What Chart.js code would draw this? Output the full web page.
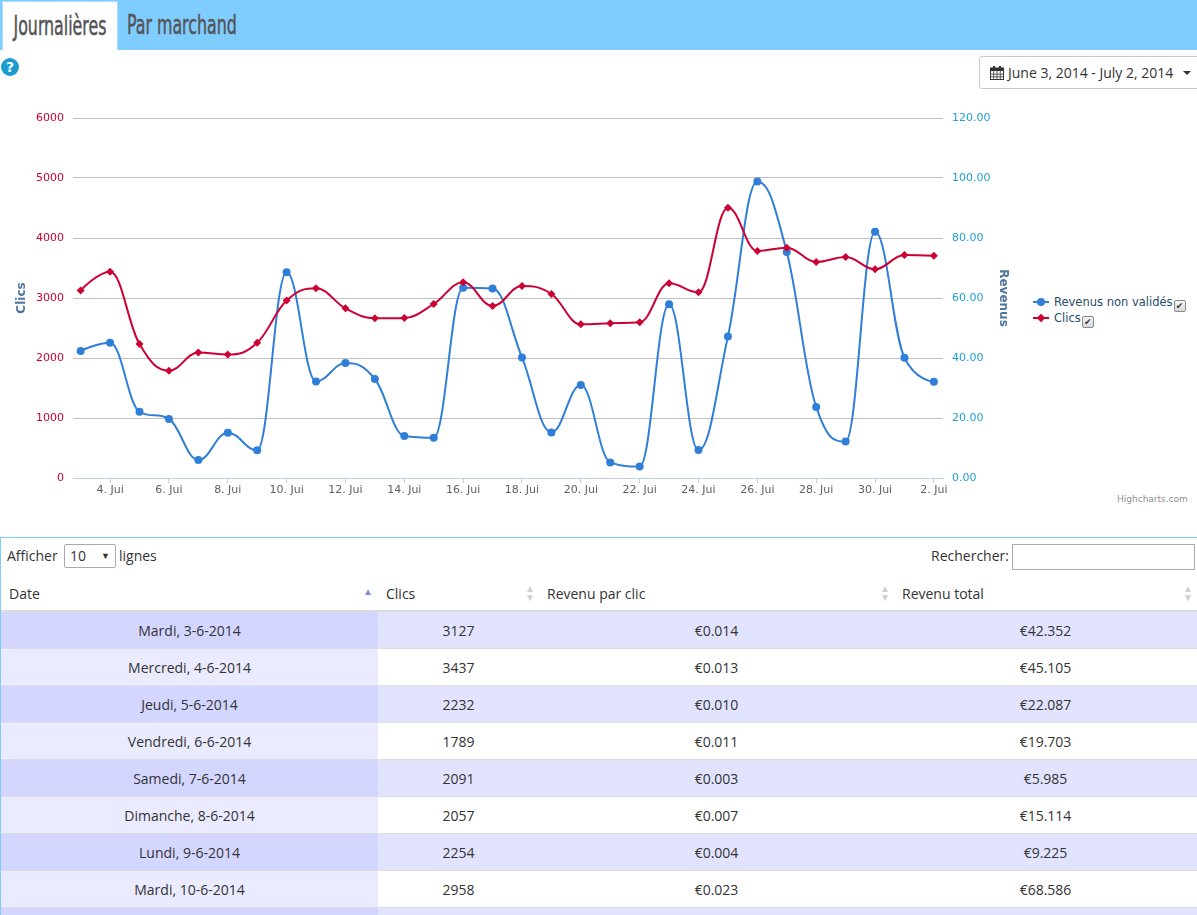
<!DOCTYPE html>
<html>
<head>
<meta charset="utf-8">
<script src="https://cdn.jsdelivr.net/npm/chart.js@4.4.1/dist/chart.umd.min.js"></script>
<style>
  html, body { margin: 0; padding: 0; overflow: hidden; background: #fff; }
  body { width: 1197px; height: 915px; position: relative; font-family: "Open Sans", sans-serif; color: #333; }
  .tabs { position: absolute; left: 0; top: 0; width: 1197px; height: 50px; background: #7fcdff; }
  .tab { position: absolute; top: 1px; height: 48px; font-family: "Liberation Sans Narrow", "DejaVu Sans Condensed", sans-serif; font-size: 17.6px; color: #555; -webkit-text-stroke: 0.35px #555; }
  .tab span { display: inline-block; transform: scaleY(1.5); line-height: 48px; }
  .tab.active { left: 2px; width: 114px; background: #fff; border: 1px solid #a9ddff; border-bottom: none; text-align: center; }
  .tab.other { left: 127px; }
  .help { position: absolute; left: 1px; top: 58px; width: 18px; height: 18px; border-radius: 50%; background: #1b9cd0; color: #fff; font: bold 14px/18px "DejaVu Sans", sans-serif; text-align: center; }
  .range { position: absolute; left: 979px; top: 56px; width: 230px; height: 31px; border: 1px solid #ccc; border-radius: 3px; font-size: 14px; line-height: 31px; color: #333; }
  .range svg { position: absolute; left: 10px; top: 9px; }
  .range .txt { position: absolute; left: 28px; top: 0; }
  .range .caret { position: absolute; left: 203px; top: 14px; width: 0; height: 0; border-left: 4px solid transparent; border-right: 4px solid transparent; border-top: 4px solid #333; }
  #wrap { position: absolute; left: 0; top: 100px; width: 1030px; height: 412px; }
  .legend { position: absolute; left: 1033px; top: 294px; font-family: "DejaVu Sans", sans-serif; font-size: 11.5px; color: #274b6d; }
  .legend .item { position: relative; height: 16px; line-height: 16px; padding-left: 21px; white-space: nowrap; }
  .legend .sym { position: absolute; left: 0; top: 7px; width: 16px; height: 2px; }
  .legend .dot { position: absolute; left: 4px; top: 4px; width: 8px; height: 8px; border-radius: 50%; }
  .legend .dia { position: absolute; left: 5px; top: 5px; width: 6px; height: 6px; transform: rotate(45deg); }
  .legend .cb { display: inline-block; width: 10px; height: 10px; margin-left: 1px; border: 1px solid #8a8a8a; border-radius: 2px; background: linear-gradient(#f6f6f6, #d8d8d8); color: #333; font-size: 9px; line-height: 10px; text-align: center; vertical-align: -3px; }
  .credit { position: absolute; left: 1117px; top: 494px; font-family: "DejaVu Sans", sans-serif; font-size: 9px; color: #909090; }
  .panel { position: absolute; left: 0; top: 537px; width: 1196px; height: 400px; border-top: 1px solid #7fcdff; border-left: 1px solid #7fcdff; }
  .ctl { position: absolute; font-size: 14px; color: #333; }
  .sel { position: absolute; left: 64px; top: 544px; width: 50px; height: 22px; border: 1px solid #aaa; border-radius: 2px; font-size: 14px; line-height: 22px; }
  .sel .v { position: absolute; left: 5px; top: 0; }
  .sel .a { position: absolute; left: 36px; top: 0; font-size: 9px; }
  .search { position: absolute; left: 1012px; top: 544px; width: 181px; height: 24px; border: 1px solid #aaa; }
  table { position: absolute; left: 1px; top: 576px; border-collapse: collapse; table-layout: fixed; width: 1196px; font-size: 14px; color: #333; }
  th { height: 34px; font-weight: normal; text-align: left; padding: 0 0 0 8px; border-bottom: 2px solid #ddd; position: relative; }
  th .s { position: absolute; right: 4px; top: 8px; font-size: 10px; line-height: 9px; color: #d0d0d0; }
  th .s.on { color: #8888dd; top: 11px; right: 5px; }
  td { height: 36px; text-align: center; border-bottom: 1px solid #ddd; padding: 0; }
  tr.odd td { background: #e2e4ff; }
  tr.odd td.c1 { background: #d3d6ff; }
  tr.even td { background: #fff; }
  tr.even td.c1 { background: #eaebff; }
</style>
</head>
<body>
<div class="tabs">
  <div class="tab active"><span>Journalières</span></div>
  <div class="tab other"><span>Par marchand</span></div>
</div>
<div class="help">?</div>
<div class="range">
  <svg width="14" height="14" viewBox="0 0 14 14"><rect x="0.5" y="2" width="13" height="11.5" fill="none" stroke="#333" stroke-width="1"/><rect x="0.5" y="2" width="13" height="3" fill="#333"/><rect x="3" y="0" width="2" height="3" fill="#333"/><rect x="9" y="0" width="2" height="3" fill="#333"/><path d="M0.5 8.2H13.5M0.5 10.8H13.5M3.7 5V13.5M7 5V13.5M10.3 5V13.5" stroke="#333" stroke-width="0.8"/></svg>
  <span class="txt">June 3, 2014 - July 2, 2014</span>
  <span class="caret"></span>
</div>
<div id="wrap"><canvas id="chart" width="1030" height="412"></canvas></div>
<div class="legend">
  <div class="item"><span class="sym" style="background:#2f7ed8"></span><span class="dot" style="background:#2f7ed8"></span>Revenus non validés<span class="cb">✔</span></div>
  <div class="item"><span class="sym" style="background:#cc0033"></span><span class="dia" style="background:#cc0033"></span>Clics<span class="cb">✔</span></div>
</div>
<div class="credit">Highcharts.com</div>

<div class="panel"></div>
<div class="ctl" style="left:7px;top:546px;">Afficher</div>
<div class="sel"><span class="v">10</span><span class="a">▼</span></div>
<div class="ctl" style="left:119px;top:546px;">lignes</div>
<div class="ctl" style="left:931px;top:546px;">Rechercher:</div>
<div class="search"></div>
<table id="tbl">
  <colgroup><col style="width:377px"><col style="width:161px"><col style="width:355px"><col style="width:303px"></colgroup>
  <thead><tr>
    <th>Date<span class="s on">▲</span></th>
    <th>Clics<span class="s">▲<br>▼</span></th>
    <th>Revenu par clic<span class="s">▲<br>▼</span></th>
    <th>Revenu total<span class="s">▲<br>▼</span></th>
  </tr></thead>
  <tbody></tbody>
</table>

<script>
// jours du 3 juin au 2 juillet
const dayLabels = [
  "3. Jui", "4. Jui", "5. Jui", "6. Jui", "7. Jui", "8. Jui", "9. Jui", "10. Jui",
  "11. Jui", "12. Jui", "13. Jui", "14. Jui", "15. Jui", "16. Jui", "17. Jui", "18. Jui",
  "19. Jui", "20. Jui", "21. Jui", "22. Jui", "23. Jui", "24. Jui", "25. Jui", "26. Jui",
  "27. Jui", "28. Jui", "29. Jui", "30. Jui", "1. Jui", "2. Jui"
];

const clics = [
  3127, 3437, 2232, 1789, 2091, 2057, 2254, 2958,
  3162, 2828, 2661, 2667, 2900, 3261, 2867, 3200,
  3067, 2561, 2578, 2594, 3244, 3094, 4506, 3783,
  3839, 3600, 3683, 3478, 3717, 3706
];

const revenus = [
  42.352, 45.105, 22.087, 19.703, 5.985, 15.114, 9.225, 68.586,
  32.2, 38.3, 33.0, 14.0, 13.4, 63.4, 63.2, 40.2,
  15.2, 31.0, 5.2, 3.8, 57.9, 9.3, 47.2, 98.8,
  75.3, 23.7, 12.2, 82.1, 40.1, 32.1
];

const clicsTicks = [0, 1000, 2000, 3000, 4000, 5000, 6000];
const revenusTicks = [0, 20, 40, 60, 80, 100, 120];

// tableau
const tableDates = [
  "Mardi, 3-6-2014", "Mercredi, 4-6-2014", "Jeudi, 5-6-2014", "Vendredi, 6-6-2014",
  "Samedi, 7-6-2014", "Dimanche, 8-6-2014", "Lundi, 9-6-2014", "Mardi, 10-6-2014",
  "Mercredi, 11-6-2014", "Jeudi, 12-6-2014"
];
const revenuParClic = ["0.014", "0.013", "0.010", "0.011", "0.003", "0.007", "0.004", "0.023", "0.010", "0.014"];

const tbody = document.querySelector("#tbl tbody");
tableDates.forEach((d, i) => {
  const tr = document.createElement("tr");
  tr.className = i % 2 === 0 ? "odd" : "even";
  tr.innerHTML =
    `<td class="c1">${d}</td><td>${clics[i]}</td><td>€${revenuParClic[i]}</td><td>€${revenus[i].toFixed(3)}</td>`;
  tbody.appendChild(tr);
});

// courbe "spline" facon Highcharts (pas de faux extremes)
const hcSpline = {
  id: "hcSpline",
  beforeDatasetsDraw(chart) {
    chart.getSortedVisibleDatasetMetas().forEach((meta) => {
      const line = meta.dataset;
      const pts = meta.data;
      line.updateControlPoints(chart.chartArea, meta.iScale.axis);
      const sm = 1.5, den = 2.5;
      for (let i = 0; i < pts.length; i++) {
        const p = pts[i];
        if (i === 0 || i === pts.length - 1) {
          p.cp1x = p.cp2x = p.x;
          p.cp1y = p.cp2y = p.y;
          continue;
        }
        const a = pts[i - 1], b = pts[i + 1];
        let lx = (sm * p.x + a.x) / den, ly = (sm * p.y + a.y) / den;
        let rx = (sm * p.x + b.x) / den, ry = (sm * p.y + b.y) / den;
        const corr = ((ry - ly) * (rx - p.x)) / (rx - lx) + p.y - ry;
        ly += corr;
        ry += corr;
        if (ly > a.y && ly > p.y) { ly = Math.max(a.y, p.y); ry = 2 * p.y - ly; }
        else if (ly < a.y && ly < p.y) { ly = Math.min(a.y, p.y); ry = 2 * p.y - ly; }
        if (ry > b.y && ry > p.y) { ry = Math.max(b.y, p.y); ly = 2 * p.y - ry; }
        else if (ry < b.y && ry < p.y) { ry = Math.min(b.y, p.y); ly = 2 * p.y - ry; }
        p.cp1x = lx; p.cp1y = ly;
        p.cp2x = rx; p.cp2y = ry;
      }
      delete line._path;
    });
  },
};

Chart.defaults.font.family = '"DejaVu Sans", Verdana, sans-serif';

const ctx = document.getElementById("chart");

new Chart(ctx, {
  type: "line",
  plugins: [hcSpline],
  data: {
    datasets: [
      {
        label: "Revenus non validés",
        data: revenus.map((v, i) => ({ x: i, y: v })),
        yAxisID: "y1",
        borderColor: "#2f7ed8",
        backgroundColor: "#2f7ed8",
        borderWidth: 2,
        pointRadius: 4,
        pointStyle: "circle",
        pointBorderWidth: 0,
        tension: 0.4,
        order: 1,
      },
      {
        label: "Clics",
        data: clics.map((v, i) => ({ x: i, y: v })),
        yAxisID: "y",
        borderColor: "#cc0033",
        backgroundColor: "#cc0033",
        borderWidth: 2,
        pointRadius: 4,
        pointStyle: "rectRot",
        pointBorderWidth: 0,
        tension: 0.4,
        order: 0,
      },
    ],
  },
  options: {
    responsive: false,
    animation: false,
    layout: { padding: { top: 18, left: 0, right: 0, bottom: 0 } },
    plugins: { legend: { display: false }, tooltip: { enabled: false } },
    scales: {
      x: {
        type: "linear",
        min: -0.26,
        max: 29.31,
        afterBuildTicks: (s) => {
          const t = [];
          for (let i = 1; i < dayLabels.length; i += 2) t.push({ value: i });
          s.ticks = t;
        },
        ticks: {
          callback: (v) => dayLabels[v],
          color: "#606060",
          font: { size: 11 },
          padding: 1,
          maxRotation: 0,
          autoSkip: false,
        },
        grid: { drawOnChartArea: false, drawTicks: true, tickLength: 5, color: "#C0D0E0" },
        border: { color: "#C0D0E0" },
        afterFit: (s) => { s.height = 34; },
      },
      y: {
        position: "left",
        min: 0,
        max: 6000,
        afterBuildTicks: (s) => { s.ticks = clicsTicks.map((v) => ({ value: v })); },
        ticks: { callback: (v) => String(v), color: "#cc0033", font: { size: 11 }, padding: 9 },
        grid: { color: "#C0C0C0", drawTicks: false },
        border: { display: false },
        title: {
          display: true,
          text: "Clics",
          color: "#4d759e",
          font: { size: 12, weight: "bold" },
          padding: { top: 15, bottom: 0 },
        },
        afterFit: (s) => { s.width = 73; },
      },
      y1: {
        position: "right",
        min: 0,
        max: 120,
        afterBuildTicks: (s) => { s.ticks = revenusTicks.map((v) => ({ value: v })); },
        ticks: {
          callback: (v) => v.toFixed(2),
          color: "#1e9fd6",
          font: { size: 11 },
          padding: 9,
        },
        grid: { display: false, drawTicks: false },
        border: { display: false },
        title: {
          display: true,
          text: "Revenus",
          color: "#4d759e",
          font: { size: 12, weight: "bold" },
          padding: { top: 20, bottom: 0 },
        },
        afterFit: (s) => { s.width = 87; },
      },
    },
  },
});
</script>
</body>
</html>
